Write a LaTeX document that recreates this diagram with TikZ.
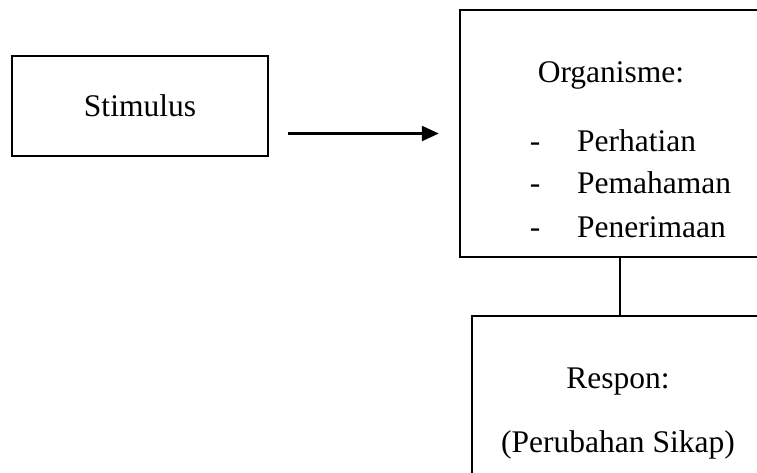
\documentclass[tikz,border=0pt]{standalone}
\usepackage{fontspec}
\setmainfont{Liberation Serif}
\usetikzlibrary{arrows.meta}
\begin{document}
\begin{tikzpicture}[x=1pt,y=-1pt,
  box/.style={draw=black,line width=2.4pt,inner sep=0pt},
  txt/.style={inner sep=0pt,font=\fontsize{31.5}{37}\selectfont},
  arr/.style={line width=2.4pt,-{Triangle[length=17pt,width=15pt]}}]
\useasboundingbox[fill=white] (0,0) rectangle (757,472);
\clip (0,0) rectangle (757,472);
\node[box,minimum width=256pt,minimum height=100pt,font=\fontsize{31.5}{37}\selectfont] (stim) at (140,106) {Stimulus};
\node[box,minimum width=304pt,minimum height=247pt] (org) at (612,133.5) {};
\node[box,minimum width=296pt,minimum height=200pt] (resp) at (620,416) {};
\node[txt,anchor=base] (orgt) at (611,82) {Organisme:};
\node[txt,anchor=base] (d1) at (535,151) {-};
\node[txt,anchor=base] (d2) at (535,193) {-};
\node[txt,anchor=base] (d3) at (535,237) {-};
\node[txt,anchor=base west] (i1) at (577,151) {Perhatian};
\node[txt,anchor=base west] (i2) at (577,193) {Pemahaman};
\node[txt,anchor=base west] (i3) at (577,237) {Penerimaan};
\node[txt,anchor=base] (rt) at (618,388) {Respon:};
\node[txt,anchor=base] (rs) at (618,452) {(Perubahan Sikap)};
\draw[arr,shorten <=19pt,shorten >=20pt] (stim.east |- org.west) -- (org.west);
\draw[line width=2.4pt] (resp.north |- org.south) -- (resp.north);
\end{tikzpicture}
\end{document}
